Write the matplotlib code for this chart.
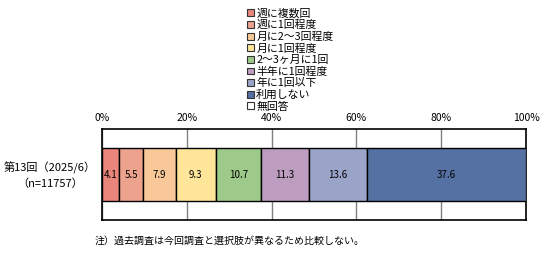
import matplotlib
matplotlib.use("Agg")
import matplotlib.pyplot as plt
from matplotlib.patches import Patch

plt.rcParams["font.family"] = ["Noto Sans CJK JP", "DejaVu Sans"]

categories = ["週に複数回", "週に1回程度", "月に2～3回程度", "月に1回程度",
              "2～3ヶ月に1回", "半年に1回程度", "年に1回以下", "利用しない", "無回答"]
values = [4.1, 5.5, 7.9, 9.3, 10.7, 11.3, 13.6, 37.6, 0.0]
colors = ["#E9857A", "#ECA28D", "#F9C898", "#FEE59A", "#9DC98A",
          "#BC9DBF", "#9AA3C8", "#5570A3", "#FFFFFF"]
row_label = "第13回（2025/6）\n（n=11757）"
note = "注）過去調査は今回調査と選択肢が異なるため比較しない。"
xticks = [0, 20, 40, 60, 80, 100]

fig = plt.figure(figsize=(5.59, 2.62), dpi=100)
ax = fig.add_axes([102 / 559, 42 / 262, 424 / 559, 91 / 262])

left = 0.0
for cat, val, col in zip(categories, values, colors):
    if val > 0:
        ax.barh(0, val, left=left, height=0.58, color=col,
                edgecolor="black", linewidth=1.0, zorder=3)
        ax.text(left + val / 2, 0, f"{val:.1f}", ha="center", va="center",
                fontsize=7, zorder=4)
    left += val

ax.set_xlim(0, 100)
ax.set_ylim(-0.5, 0.5)
ax.set_xticks(xticks)
ax.set_xticklabels([f"{t}%" for t in xticks], fontsize=7.5)
ax.xaxis.tick_top()
ax.tick_params(axis="x", length=0, pad=4)
ax.set_yticks([])
ax.grid(axis="x", color="#808080", linewidth=1.0, zorder=1)
for s in ax.spines.values():
    s.set_linewidth(1.2)
    s.set_color("black")

fig.text(50 / 559, 1 - 175 / 262, row_label, ha="center", va="center",
         fontsize=8, linespacing=1.5)
fig.text(95 / 559, 1 - 241 / 262, note, ha="left", va="center", fontsize=7.2)

handles = [Patch(facecolor=c, edgecolor="#333333", linewidth=0.8) for c in colors]
fig.legend(handles, categories, loc="upper left",
           bbox_to_anchor=(247 / 559, 1 - 8 / 262), frameon=False,
           fontsize=7.8, handlelength=0.6, handleheight=0.6,
           handletextpad=0.25, labelspacing=0.13, borderpad=0, borderaxespad=0)

fig.savefig("out.png", dpi=100)
